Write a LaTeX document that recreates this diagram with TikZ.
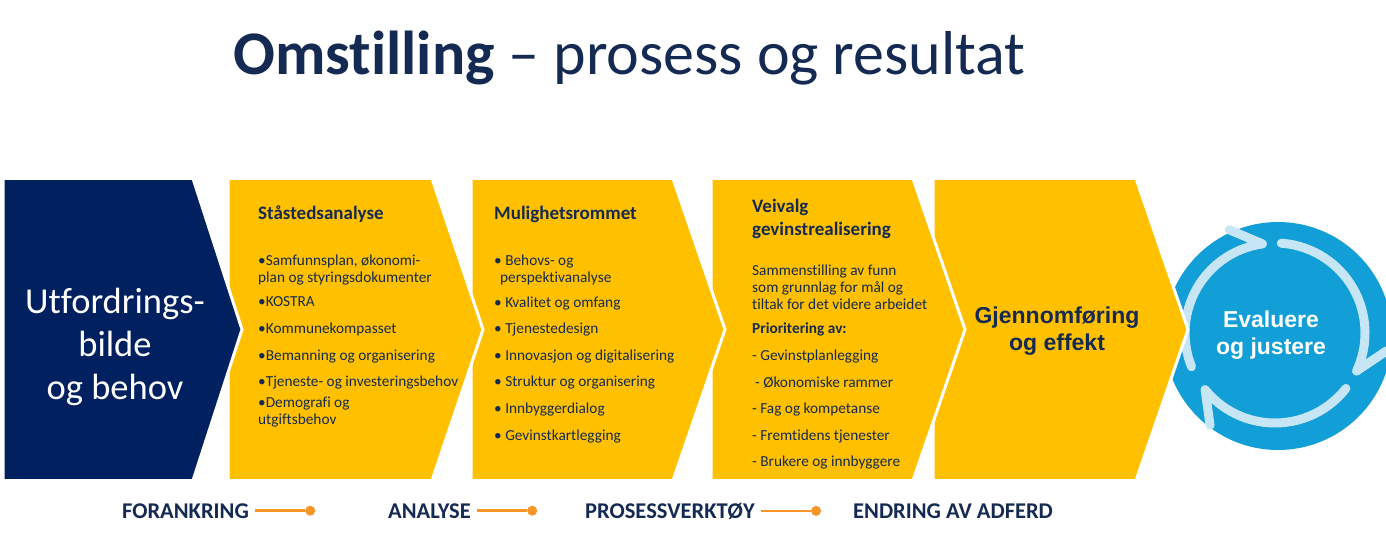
\documentclass[tikz,border=0pt]{standalone}
\usepackage{fontspec}
\setmainfont{Carlito}[Ligatures=NoCommon]
\newfontfamily\arialfont{Liberation Sans}
\usepackage{xcolor}
\usetikzlibrary{positioning}

\definecolor{navy}{RGB}{20,42,82}
\definecolor{darkblue}{RGB}{0,32,96}
\definecolor{gold}{RGB}{255,192,0}
\definecolor{skyblue}{RGB}{18,158,214}
\definecolor{ringblue}{RGB}{198,230,245}
\definecolor{dotorange}{RGB}{247,150,40}

% left edge, shoulder, tip, colour
\newcommand{\chevshape}[4]{%
  \filldraw[fill=#4, draw=white, line width=3pt, line join=miter]
    (#1,-178.5) -- (#2,-178.5) -- (#3,-329.5) -- (#2,-480.5) -- (#1,-480.5) -- cycle;}

\begin{document}
\begin{tikzpicture}[
  x=1pt, y=1pt,
  node distance=56pt,
  txt/.style={text=navy, inner sep=0pt, align=left, anchor=north west},
  head/.style={txt, font=\fontsize{19}{22.5}\selectfont\bfseries},
  item/.style={txt, font=\fontsize{15.3}{17}\selectfont},
  big/.style={inner sep=0pt, align=center, font=\arialfont\bfseries\fontsize{23}{27}\selectfont},
  phase/.style={text=navy, inner sep=0pt, anchor=base west, font=\fontsize{22.5}{27}\selectfont\bfseries},
  dot/.style={circle, fill=dotorange, inner sep=0pt, minimum size=10pt},
  link/.style={draw=dotorange, line width=2.5pt, shorten <=6pt},
  ring/.style={draw=ringblue, line width=9pt, line cap=round, line join=round}
]
  \useasboundingbox (0,0) rectangle (1386,-537);

  % title
  \node[text=navy, inner sep=0pt, anchor=base west, font=\fontsize{62}{70}\selectfont] (title) at (233,-75)
    {\textbf{Omstilling} – prosess og resultat};

  % evaluation circle
  \node[circle, fill=skyblue, minimum size=228pt, inner sep=0pt] (evalc) at (1278,-336) {};
  \coordinate (ringc) at (1275,-333);
  \draw[ring] (ringc) ++(202:90) arc[start angle=202, end angle=98, radius=90] -- ++(157:36);
  \draw[ring] (ringc) ++(86:90) arc[start angle=86, end angle=-25, radius=90] -- ++(34:36);
  \draw[ring] (ringc) ++(-38:90) arc[start angle=-38, end angle=-141, radius=90] -- ++(-82:36);
  \node[big, text=white] (evaltxt) at (1271,-335) {Evaluere\\og justere};

  % chevrons, right to left so each tip lies on top
  \chevshape{933}{1136}{1188}{gold}
  \chevshape{711}{913}{965}{gold}
  \chevshape{471}{673}{725}{gold}
  \chevshape{228}{432}{483}{gold}
  \chevshape{3}{193}{242}{darkblue}

  \node[inner sep=0pt, align=center, text=white, font=\fontsize{36.5}{43}\selectfont] (challenge) at (115,-347)
    {Utfordrings-\\bilde\\og behov};

  \node[head] (h1) at (258,-206) {Ståstedsanalyse};
  \node[item] (l1) at (258,-254.5) {•Samfunnsplan, økonomi-\\plan og styringsdokumenter\\[7pt]
    •KOSTRA\\[10pt]•Kommunekompasset\\[10pt]•Bemanning og organisering\\[9pt]
    •Tjeneste- og investeringsbehov\\[4pt]•Demografi og\\utgiftsbehov};

  \node[head] (h2) at (494,-206) {Mulighetsrommet};
  \node[item] (l2) at (494,-254.5) {• Behovs- og\\\hspace*{6pt}perspektivanalyse\\[8pt]
    • Kvalitet og omfang\\[9pt]• Tjenestedesign\\[10pt]• Innovasjon og digitalisering\\[9pt]
    • Struktur og organisering\\[10pt]• Innbyggerdialog\\[10pt]• Gevinstkartlegging};

  \node[head] (h3) at (752,-199) {Veivalg\\gevinstrealisering};
  \node[item] (l3) at (752,-265) {Sammenstilling av funn\\som grunnlag for mål og\\tiltak for det videre arbeidet\\[7pt]
    \textbf{Prioritering av:}\\[10pt]- Gevinstplanlegging\\[10pt]\hspace*{3pt}- Økonomiske rammer\\[9pt]
    - Fag og kompetanse\\[10pt]- Fremtidens tjenester\\[9pt]- Brukere og innbyggere};

  \node[big, text=navy] (impl) at (1057,-331) {Gjennomføring\\og effekt};

  % bottom row
  \node[phase] (anchoring) at (122,-518) {FORANKRING};
  \node[dot, right=of anchoring] (d1) {};
  \draw[link] (anchoring) -- (d1);
  \node[phase] (analysis) at (388,-518) {ANALYSE};
  \node[dot, right=of analysis] (d2) {};
  \draw[link] (analysis) -- (d2);
  \node[phase] (tools) at (585,-518) {PROSESSVERKTØY};
  \node[dot, right=of tools] (d3) {};
  \draw[link] (tools) -- (d3);
  \node[phase] (behaviour) at (853,-518) {ENDRING AV ADFERD};
\end{tikzpicture}
\end{document}
